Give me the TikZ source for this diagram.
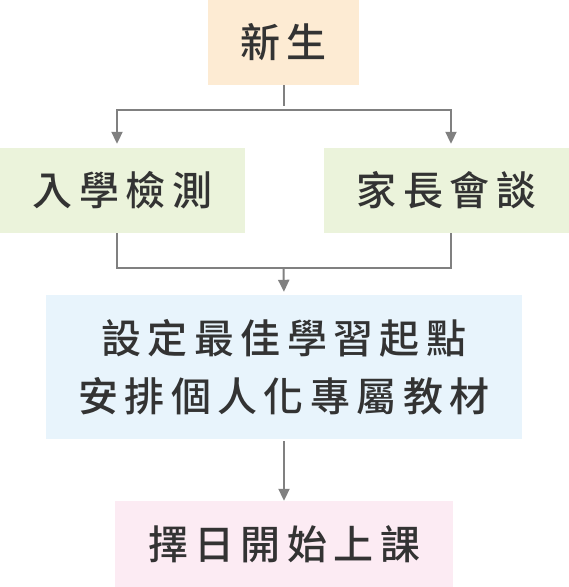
\documentclass[tikz,border=0pt]{standalone}
\usepackage{fontspec}
\setmainfont{Noto Sans CJK TC}[UprightFont=* Medium,LetterSpace=16]
\usetikzlibrary{arrows.meta}
\definecolor{newbg}{HTML}{FDEBD3}
\definecolor{stepbg}{HTML}{EBF3DB}
\definecolor{planbg}{HTML}{E8F4FC}
\definecolor{startbg}{HTML}{FCEBF3}
\definecolor{inkgray}{HTML}{333333}
\definecolor{linegray}{HTML}{808080}
\tikzset{
  box/.style={inner sep=0pt,text=inkgray,align=center,
    font=\fontsize{40}{58}\selectfont},
  link/.style={line width=2pt,draw=linegray},
  arrow/.style={link,-{Triangle[width=11pt,length=12pt]}}
}
\begin{document}
\begin{tikzpicture}[x=1pt,y=-1pt]
      \useasboundingbox (0,0) rectangle (569,587);
      \draw
        (283.5,42.5) node[box,fill=newbg,minimum width=151pt,minimum height=85pt] (new){新生}
        (122.5,190.5) node[box,fill=stepbg,minimum width=245pt,minimum height=85pt] (test){入學檢測}
        (446.5,190.5) node[box,fill=stepbg,minimum width=245pt,minimum height=85pt] (talk){家長會談}
        (284,367) node[box,fill=planbg,minimum width=476pt,minimum height=144pt] (plan){設定最佳學習起點\\安排個人化專屬教材}
        (284,544) node[box,fill=startbg,minimum width=338pt,minimum height=86pt] (start){擇日開始上課};
      \coordinate (fork) at (283.5,110);
      \coordinate (join) at (283.5,268);
      \begin{scope}[shorten >=4pt]
        \draw[link] (new.south) -- (fork);
        \draw[arrow] (fork) -| ([xshift=-5.5pt]test.north);
        \draw[arrow] (fork) -| ([xshift=4.5pt]talk.north);
        \draw[link,shorten >=0pt] ([xshift=-5.5pt]test.south) |- (join);
        \draw[link,shorten >=0pt] ([xshift=4.5pt]talk.south) |- (join);
        \draw[arrow,shorten >=3pt] (join) -- (plan.north);
        \draw[arrow,shorten <=2pt,shorten >=0pt] (plan.south) -- (start.north);
      \end{scope}
    \end{tikzpicture}
\end{document}
